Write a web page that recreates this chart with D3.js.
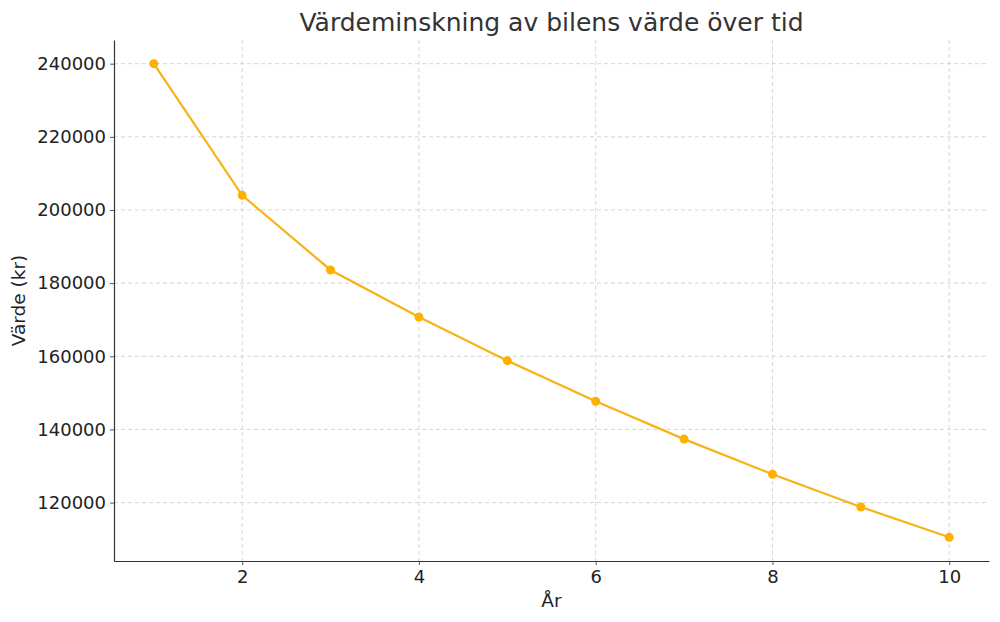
<!DOCTYPE html>
<html lang="sv">
<head>
<meta charset="utf-8">
<title>Värdeminskning</title>
<style>
  body { margin: 0; background: #fff; }
  svg { font-family: "DejaVu Sans", sans-serif; }
</style>
</head>
<body>
<svg id="chart" width="1000" height="622"></svg>
<script src="https://cdn.jsdelivr.net/npm/d3@7"></script>
<script>
const years = [1, 2, 3, 4, 5, 6, 7, 8, 9, 10];
const values = [240000, 204000, 183600, 170750, 158800, 147700, 137350, 127750, 118800, 110500];
const xTicks = [2, 4, 6, 8, 10];
const yTicks = [120000, 140000, 160000, 180000, 200000, 220000, 240000];

const svg = d3.select("#chart");
const margin = {top: 40, right: 11, bottom: 61, left: 114};
const width = 1000 - margin.left - margin.right;
const height = 622 - margin.top - margin.bottom;

// matplotlib-style 5% padding
const xPad = (d3.max(years) - d3.min(years)) * 0.05;
const yPad = (d3.max(values) - d3.min(values)) * 0.05;
const x = d3.scaleLinear()
    .domain([d3.min(years) - xPad, d3.max(years) + xPad])
    .range([0, width]);
const y = d3.scaleLinear()
    .domain([d3.min(values) - yPad, d3.max(values) + yPad])
    .range([height, 0]);

const g = svg.append("g").attr("transform", `translate(${margin.left},${margin.top})`);

// grid
g.append("g").selectAll("line").data(xTicks).join("line")
    .attr("x1", d => x(d)).attr("x2", d => x(d))
    .attr("y1", 0).attr("y2", height)
    .attr("stroke", "#cccccc").attr("stroke-width", 0.8).attr("stroke-dasharray", "4,3");
g.append("g").selectAll("line").data(yTicks).join("line")
    .attr("x1", 0).attr("x2", width)
    .attr("y1", d => y(d)).attr("y2", d => y(d))
    .attr("stroke", "#cccccc").attr("stroke-width", 0.8).attr("stroke-dasharray", "4,3");

// axes
const xAxis = g.append("g").attr("transform", `translate(0,${height})`)
    .call(d3.axisBottom(x).tickValues(xTicks).tickSize(4).tickPadding(5).tickSizeOuter(0));
const yAxis = g.append("g")
    .call(d3.axisLeft(y).tickValues(yTicks).tickFormat(d3.format("d")).tickSize(4).tickPadding(4).tickSizeOuter(0));
[xAxis, yAxis].forEach(a => {
  a.select(".domain").attr("stroke", "#333").attr("stroke-width", 1.2);
  a.selectAll(".tick line").attr("stroke", "#555");
  a.selectAll(".tick text").attr("fill", "#222").style("font-size", "18px")
    .style("font-family", "'DejaVu Sans', sans-serif");
});

// line and markers
const line = d3.line().x((d, i) => x(years[i])).y(d => y(d));
g.append("path").datum(values)
    .attr("d", line).attr("fill", "none")
    .attr("stroke", "#f7b315").attr("stroke-width", 2.2);
g.append("g").selectAll("circle").data(values).join("circle")
    .attr("cx", (d, i) => x(years[i])).attr("cy", d => y(d))
    .attr("r", 4.5).attr("fill", "#ffb000");

// labels
svg.append("text").attr("x", margin.left + width / 2).attr("y", 31)
    .attr("text-anchor", "middle").attr("fill", "#333").style("font-size", "25px")
    .text("Värdeminskning av bilens värde över tid");
svg.append("text").attr("x", margin.left + width / 2).attr("y", 607)
    .attr("text-anchor", "middle").attr("fill", "#222").style("font-size", "18.5px")
    .text("År");
svg.append("text").attr("transform", `translate(25,${margin.top + height / 2}) rotate(-90)`)
    .attr("text-anchor", "middle").attr("fill", "#222").style("font-size", "18.5px")
    .text("Värde (kr)");
</script>
</body>
</html>
